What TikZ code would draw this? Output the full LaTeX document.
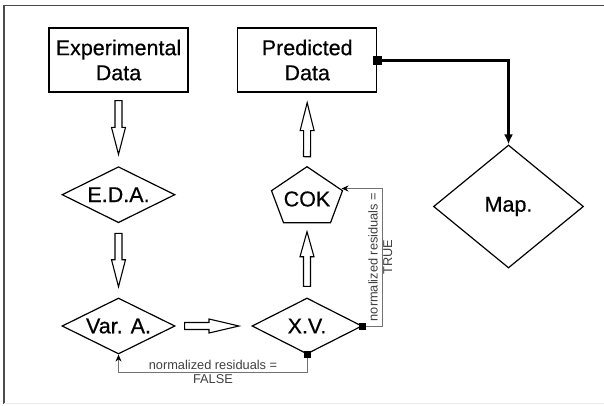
\documentclass[tikz,border=0pt]{standalone}
\usepackage{fontspec}
\setmainfont{Liberation Sans}
\newfontfamily\heavyfont[FakeBold=0.5]{Liberation Sans}
\usetikzlibrary{shapes.geometric,arrows.meta,calc}
\newcommand\hollowarrow[5]{%
  \coordinate (ha-s) at ($(#1)!#3!(#2)$);
  \coordinate (ha-e) at ($(#2)!#4!(#1)$);
  \coordinate (ha-h) at ($(ha-e)!#5!(ha-s)$);
  \draw[blockarrow] ($(ha-s)!3.5pt!90:(ha-e)$) -- ($(ha-h)!3.5pt!90:(ha-e)$)
    -- ($(ha-h)!7pt!90:(ha-e)$) -- (ha-e) -- ($(ha-h)!7pt!-90:(ha-e)$)
    -- ($(ha-h)!3.5pt!-90:(ha-e)$) -- ($(ha-s)!3.5pt!-90:(ha-e)$) -- cycle;
}
\begin{document}
\begin{tikzpicture}[x=1pt,y=-1pt,
  bigtext/.style={font=\heavyfont\fontsize{21.5}{25}\selectfont},
  box/.style={draw, line width=1.3pt, minimum width=139pt, minimum height=64pt, inner sep=0pt, align=center, bigtext},
  dia/.style={draw, diamond, line width=1.2pt, inner sep=0pt, bigtext},
  blockarrow/.style={draw=black, line width=1.1pt, fill=white, line join=miter},
  thinline/.style={draw=black!55, line width=0.9pt},
  sq/.style={fill=black, inner sep=0pt, minimum size=#1},
  lbl/.style={text=black!75, align=center, inner sep=0pt, font=\fontsize{12.8}{14.5}\selectfont}]
\useasboundingbox (0,0) rectangle (604,405);
\fill[white] (0,0) rectangle (604,405);
% frame
\draw[black!70, line width=1.5pt] (4,404) -- (4,5.5) -- (605,5.5);
\draw[black!8, line width=1.5pt] (4,403.5) -- (605,403.5);
% nodes
\node[box] (exp) at (118.5,60) {Experimental\\Data};
\node[box] (pred) at (307.2,60) {Predicted\\Data};
\node[dia, aspect=2.02, minimum width=113pt, minimum height=56pt] (eda) at (118.5,194.7) {E.D.A.};
\node[dia, aspect=2.02, minimum width=113pt, minimum height=56pt] (vara) at (118.5,326) {Var. A.};
\node[dia, aspect=1.96, minimum width=110pt, minimum height=56pt] (xv) at (307,326) {X.V.};
\node[dia, aspect=1.22, minimum width=150pt, minimum height=123pt] (map) at (508.5,206.5) {Map.};
% COK pentagon
\draw[line width=1.2pt, line join=miter] (307,166.7) -- (342.5,190.7) -- (330.5,222.7) -- (283.5,222.7) -- (271.5,190.7) -- cycle;
\node[bigtext, inner sep=0pt] (cok) at (307,199) {COK};
\coordinate (cokt) at (307,166.7);
\coordinate (cokb) at (307,222.7);
\coordinate (cokr) at (341.5,188.5);
% block arrows
\hollowarrow{exp.south}{eda.north}{8pt}{11.7pt}{27pt}
\hollowarrow{eda.south}{vara.north}{10pt}{10.7pt}{27pt}
\hollowarrow{vara.east}{xv.west}{9pt}{12.4pt}{30pt}
\hollowarrow{xv.north}{cokb}{11pt}{9pt}{25pt}
\hollowarrow{cokt}{pred.south}{10pt}{10pt}{28pt}
% thick connector to map
\draw[line width=3pt, -{Latex[length=10pt,width=9pt]}] (pred.east) -| (map.north);
\node[sq=9pt] (s1) at (pred.east) {};
% thin connectors
\draw[thinline, -{Stealth[length=7pt,width=6pt,black]}] (xv.east) -- ++(19.6,0) |- (cokr);
\draw[thinline, -{Stealth[length=7pt,width=6pt,black]}] (xv.south) -- ++(0,18) -| (vara.south);
\node[sq=7pt] (s2) at (xv.east) {};
\node[sq=7pt] (s3) at (xv.south) {};
% labels
\node[lbl] (lf) at (213,372) {normalized residuals =\\FALSE};
\node[lbl, rotate=90] (lt) at (380.3,257) {normalized residuals =\\TRUE};
\end{tikzpicture}
\end{document}
